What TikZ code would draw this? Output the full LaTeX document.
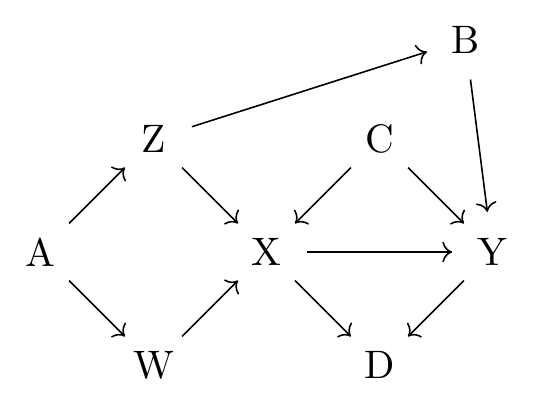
\documentclass[tikz,border=0pt]{standalone}
\usepackage{amsmath,amssymb}
\usepackage{tikz}
\usetikzlibrary{positioning,arrows.meta}
\tikzset{
  var/.style={circle,minimum size=7mm,inner sep=0pt}, % variable
  cause/.style={->,line width=0.4pt},                 % causal edge
}
\begin{document}
\begin{tikzpicture}[scale=1.0]
  \useasboundingbox (-0.358,-1.416) rectangle (4.385,2.230);
  \node[var] (A) at (0,0) {A};
  \node[var] (Z) at (1,1) {Z};
  \node[var] (W) at (1,-1) {W};
  \node[var] (X) at (2,0) {X};
  \node[var] (C) at (3,1) {C};
  \node[var] (D) at (3,-1) {D};
  \node[var] (Y) at (4,0) {Y};
  \node[var] (B) at (3.76,1.88) {B};
  \foreach \s/\t in {A/Z,A/W,Z/X,W/X,C/X,C/Y,X/Y,X/D,Y/D,Z/B,B/Y}{
    \draw[cause] (\s)--(\t);
  }
\end{tikzpicture}
\end{document}
